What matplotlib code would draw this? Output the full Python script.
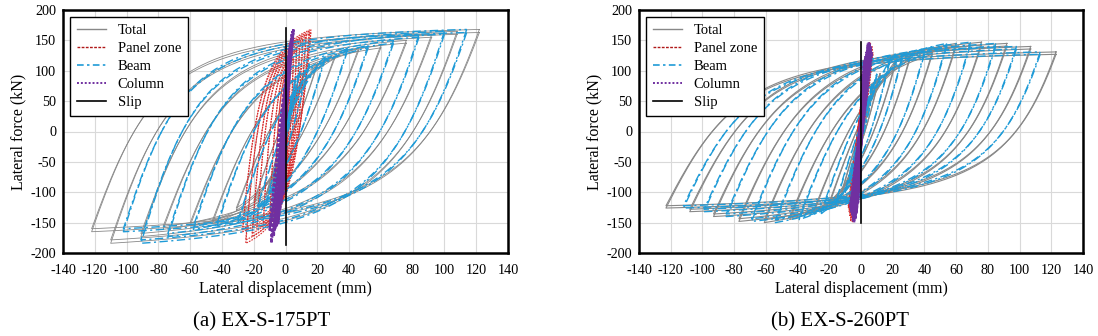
import numpy as np
import matplotlib
matplotlib.use("Agg")
import matplotlib.pyplot as plt
from matplotlib.lines import Line2D

# ---------------- EX-S-175PT ----------------
# peak lateral force (kN) reached in each loading amplitude
a_fpos = [60, 85, 100, 112, 124, 137, 142, 150, 160, 165, 168]
a_fneg = [-62, -88, -105, -118, -130, -151, -155, -161, -173, -184, -165]
# peak displacement (mm) of each deformation component at those amplitudes
a_total_dpos = [5, 8, 12, 20, 31, 46, 60, 76, 92, 108, 122]
a_total_dneg = [-5, -8, -12, -20, -31, -46, -60, -77, -91, -110, -122]
a_beam_dpos = [4, 6, 9, 15, 25, 39, 52, 68, 84, 100, 114]
a_beam_dneg = [-3, -5, -8, -12, -18, -30, -43, -58, -74, -91, -102]
a_panel_dpos = [0.5, 1, 2, 3, 5, 7, 9, 11, 13, 15, 16]
a_panel_dneg = [-0.5, -1, -2, -4, -7, -10, -14, -18, -21, -25, -27]
a_column_dpos = [0.3, 0.6, 1, 1.5, 2, 2.5, 3, 3.5, 4, 4.5, 5]
a_column_dneg = [-0.5, -1, -1.5, -2.5, -3.5, -4.5, -5.5, -6.5, -7.5, -9, -10]
a_slip_d = [0, 0]
a_slip_f = [-187, 170]

# ---------------- EX-S-260PT ----------------
b_fpos = [55, 78, 95, 117, 124, 131, 145, 147, 145, 140, 131]
b_fneg = [-58, -82, -100, -120, -135, -145, -150, -148, -140, -132, -126]
b_total_dpos = [5, 8, 12, 22, 31, 45, 60, 76, 92, 107, 123]
b_total_dneg = [-5, -8, -12, -20, -30, -45, -61, -77, -93, -108, -123]
b_beam_dpos = [4, 7, 10, 18, 26, 40, 54, 69, 85, 98, 113]
b_beam_dneg = [-4, -7, -10, -16, -25, -39, -54, -69, -85, -99, -112]
b_panel_dpos = [0.5, 1, 1.5, 2.5, 3, 4, 5, 5.5, 6, 7, 7.5]
b_panel_dneg = [-0.5, -1, -1.5, -2.5, -3.5, -4.5, -5.5, -6.5, -7, -7.5, -8]
b_column_dpos = [0.4, 0.8, 1.2, 2, 2.8, 3.6, 4.4, 5, 5.6, 6.2, 6.7]
b_column_dneg = [-0.4, -0.8, -1.2, -2, -2.8, -3.6, -4.4, -5, -5.6, -6.2, -6.7]
b_slip_d = [0, 0]
b_slip_f = [-150, 148]

x_ticks = list(range(-140, 141, 20))
y_ticks = list(range(-200, 201, 50))
captions = ["(a) EX-S-175PT", "(b) EX-S-260PT"]

plt.rcParams["font.family"] = ["Liberation Serif", "DejaVu Serif"]
plt.rcParams["axes.unicode_minus"] = False

GRAY = "#888888"
RED = "#d83030"
BLUE = "#1f9bd7"
PURPLE = "#7030a0"


def mp(t, ty, R):
    """Menegotto-Pinto style transition curve."""
    e = t / ty
    return e / (1.0 + e ** R) ** (1.0 / R)


def loop(xp, xn, fp, fn, up, lo, n=200):
    """Closed hysteresis cycle between the tips (xp, fp) and (xn, fn)."""
    L = xp - xn
    x_lo = np.linspace(xp, xn, n)
    g_lo = mp(xp - x_lo, *lo) / mp(L, *lo)
    f_lo = fp - (fp - fn) * g_lo
    x_up = np.linspace(xn, xp, n)
    g_up = mp(x_up - xn, *up) / mp(L, *up)
    f_up = fn + (fp - fn) * g_up
    return np.concatenate([x_lo, x_up]), np.concatenate([f_lo, f_up])


def draw_component(ax, dpos, dneg, fpos, fneg, shape, **style):
    for xp, xn, fp, fn in zip(dpos, dneg, fpos, fneg):
        L = xp - xn
        # negative transition lengths are given relative to the cycle span
        up = (shape["up"][0] if shape["up"][0] > 0 else -shape["up"][0] * L, shape["up"][1])
        lo = (shape["lo"][0] if shape["lo"][0] > 0 else -shape["lo"][0] * L, shape["lo"][1])
        for c in (1.0, 0.97):
            x, f = loop(xp, xn, fp * c, fn * c, up, lo)
            ax.plot(x, f, **style)


fig = plt.figure(figsize=(10.98, 3.36), dpi=100)
W, H = 1098, 336
ax_a = fig.add_axes([63 / W, (H - 253) / H, 445 / W, 243 / H])
ax_b = fig.add_axes([639 / W, (H - 253) / H, 444 / W, 243 / H])

specimens = [
    dict(ax=ax_a, f=(a_fpos, a_fneg),
         total=(a_total_dpos, a_total_dneg), beam=(a_beam_dpos, a_beam_dneg),
         panel=(a_panel_dpos, a_panel_dneg), column=(a_column_dpos, a_column_dneg),
         slip=(a_slip_d, a_slip_f),
         tshape=dict(up=(46.7, 1.8), lo=(50, 1.5)),
         bshape=dict(up=(42, 1.8), lo=(45, 1.5)),
         pshape=dict(up=(-0.3, 1.5), lo=(-0.3, 1.5)),
         cshape=dict(up=(-1.5, 1.5), lo=(-1.5, 1.5)), gray_lw=0.6),
    dict(ax=ax_b, f=(b_fpos, b_fneg),
         total=(b_total_dpos, b_total_dneg), beam=(b_beam_dpos, b_beam_dneg),
         panel=(b_panel_dpos, b_panel_dneg), column=(b_column_dpos, b_column_dneg),
         slip=(b_slip_d, b_slip_f),
         tshape=dict(up=(52, 1.8), lo=(38, 1.4)),
         bshape=dict(up=(48, 1.8), lo=(35, 1.4)),
         pshape=dict(up=(-1.2, 1.5), lo=(-1.2, 1.5)),
         cshape=dict(up=(-2, 1.5), lo=(-2, 1.5)), gray_lw=0.8),
]

for sp, cap in zip(specimens, captions):
    ax = sp["ax"]
    fpos, fneg = sp["f"]
    draw_component(ax, *sp["total"], fpos, fneg, sp["tshape"],
                   color=GRAY, lw=sp["gray_lw"], zorder=2)
    draw_component(ax, *sp["panel"], fpos, fneg, sp["pshape"],
                   color=RED, lw=0.8, ls=(0, (1.5, 1)), zorder=3)
    draw_component(ax, *sp["beam"], fpos, fneg, sp["bshape"],
                   color=BLUE, lw=1.0, ls=(0, (6, 2.5, 1.5, 2.5)), zorder=4)
    draw_component(ax, *sp["column"], fpos, fneg, sp["cshape"],
                   color=PURPLE, lw=1.8, ls=(0, (1, 1)), zorder=5)
    ax.plot(*sp["slip"], color="black", lw=1.2, zorder=6)

    ax.set_xlim(-140, 140)
    ax.set_ylim(-200, 200)
    ax.set_xticks(x_ticks)
    ax.set_yticks(y_ticks)
    ax.grid(True, color="#d9d9d9", lw=0.8, zorder=0)
    ax.set_axisbelow(True)
    ax.tick_params(axis="both", length=0, labelsize=10.2)
    ax.tick_params(axis="x", pad=8)
    ax.tick_params(axis="y", pad=5)
    for sp_ in ax.spines.values():
        sp_.set_linewidth(1.8)
        sp_.set_color("black")
    ax.set_xlabel("Lateral displacement (mm)", fontsize=11.5, labelpad=3)
    ax.set_ylabel("Lateral force (kN)", fontsize=11.5, labelpad=3)

    handles = [
        Line2D([], [], color=GRAY, lw=1.0),
        Line2D([], [], color="#b01818", lw=1.0, ls=(0, (2, 1))),
        Line2D([], [], color=BLUE, lw=1.2, ls=(0, (4, 2, 1.5, 2))),
        Line2D([], [], color=PURPLE, lw=1.4, ls=(0, (1, 1))),
        Line2D([], [], color="black", lw=1.2),
    ]
    leg = ax.legend(handles, ["Total", "Panel zone", "Beam", "Column", "Slip"],
                    loc="upper left", fontsize=10.5, frameon=True, fancybox=False,
                    edgecolor="black", framealpha=1, handlelength=2.0,
                    handletextpad=0.8, labelspacing=0.33, borderpad=0.45,
                    borderaxespad=0.5)
    leg.get_frame().set_linewidth(1.0)
    leg.set_zorder(10)

fig.text(262 / W, 1 - 322 / H, captions[0], fontsize=15, ha="center", va="center")
fig.text(840 / W, 1 - 322 / H, captions[1], fontsize=15, ha="center", va="center")

fig.savefig("out.png", dpi=100)
